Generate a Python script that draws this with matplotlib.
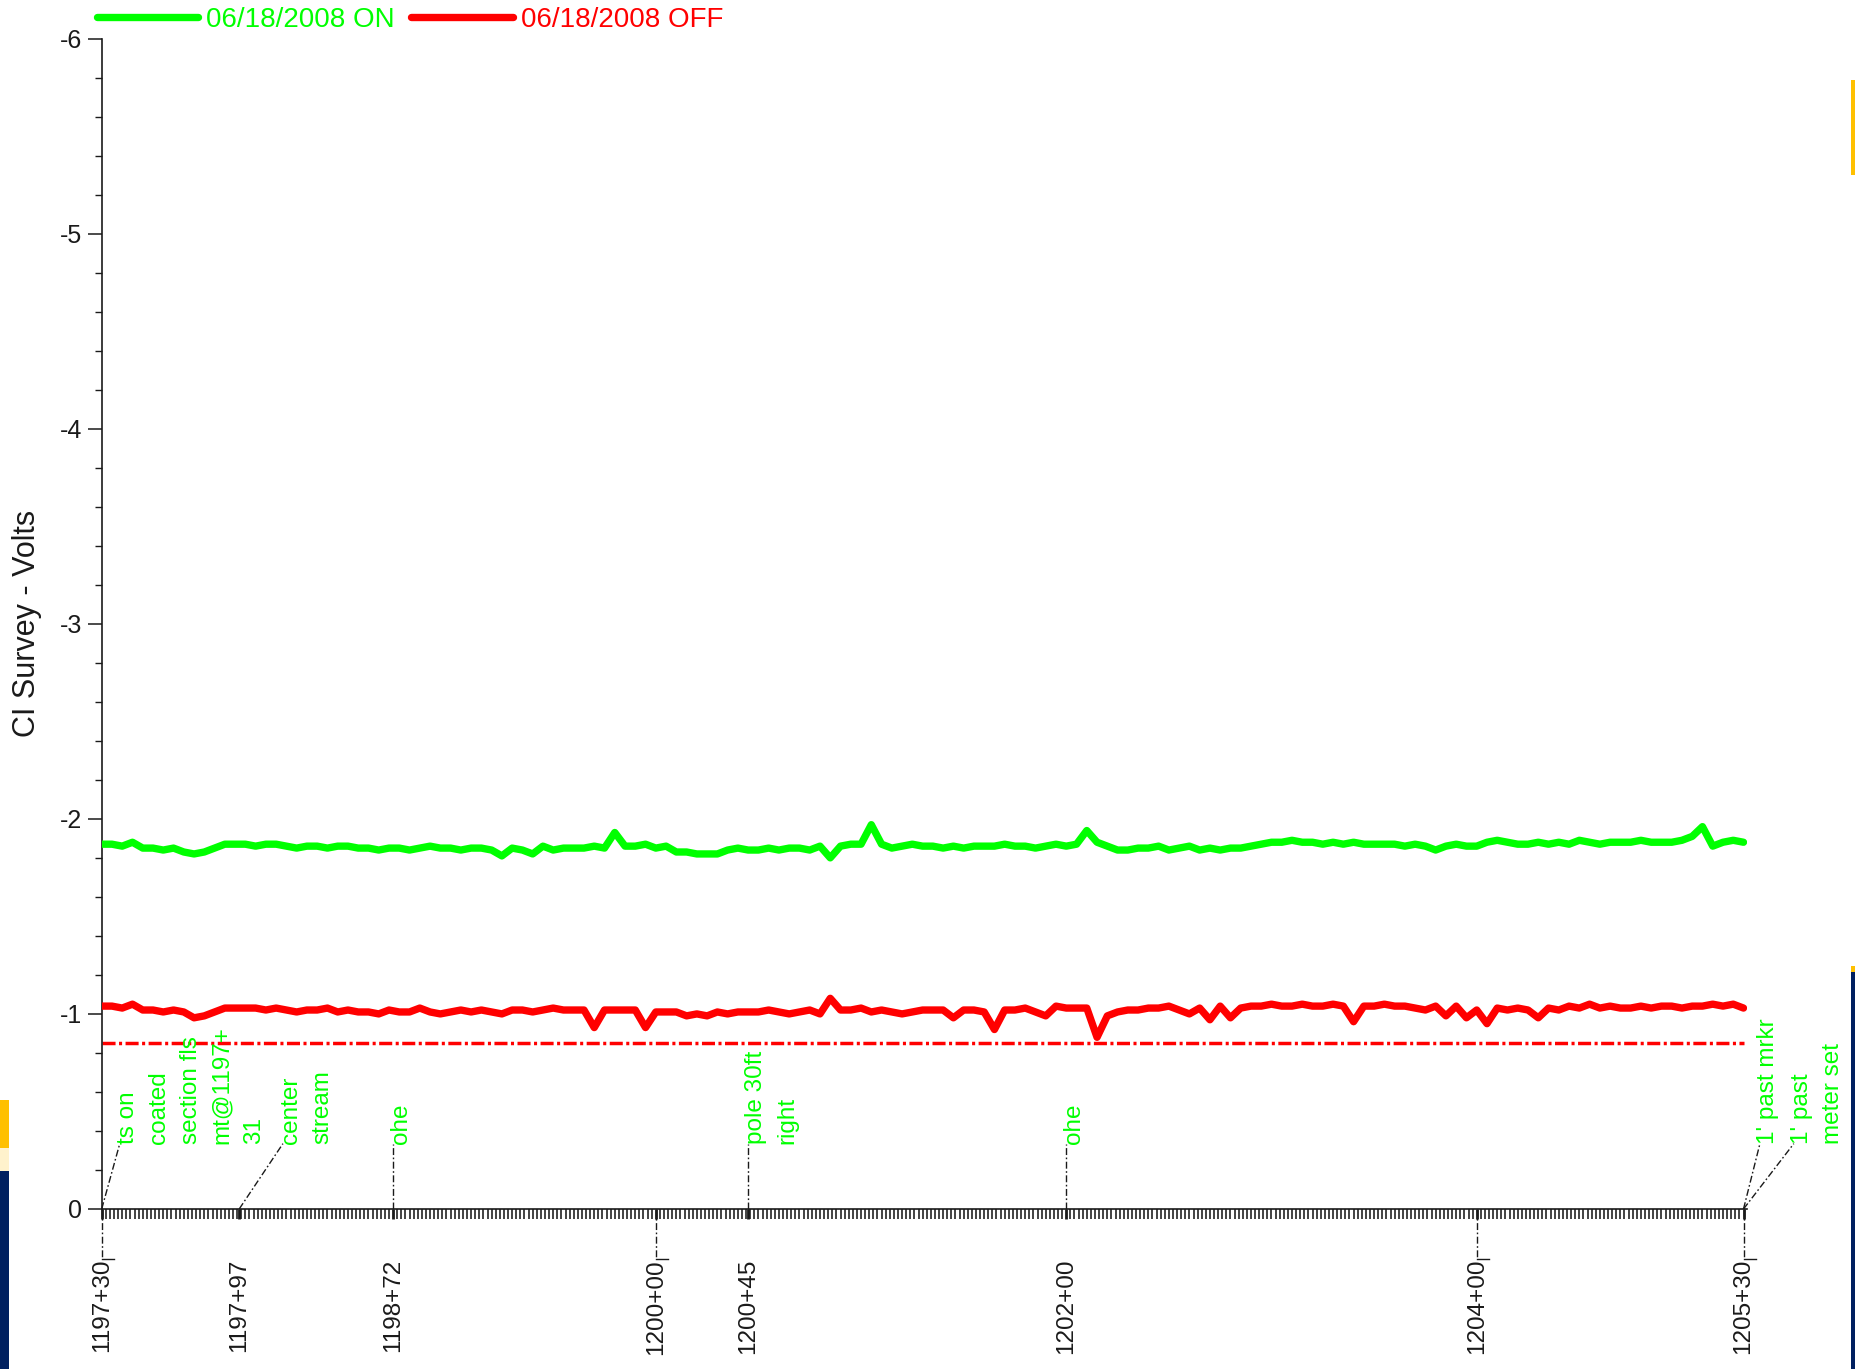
import numpy as np
import matplotlib
matplotlib.use("Agg")
import matplotlib.pyplot as plt
from matplotlib.ticker import MultipleLocator
from matplotlib.patches import Rectangle

plt.rcParams["font.family"] = ["Liberation Sans", "DejaVu Sans"]
plt.rcParams["lines.scale_dashes"] = False

# ---------------------------------------------------------------- data
# reading stations along the line, in feet (1197+30 = 119730)
station_ft = np.arange(119730, 120531, 5)

# pipe-to-soil potentials, volts
on_volts = [
    -1.87, -1.87, -1.86, -1.88, -1.85, -1.85, -1.84, -1.85, -1.83, -1.82,
    -1.83, -1.85, -1.87, -1.87, -1.87, -1.86, -1.87, -1.87, -1.86, -1.85,
    -1.86, -1.86, -1.85, -1.86, -1.86, -1.85, -1.85, -1.84, -1.85, -1.85,
    -1.84, -1.85, -1.86, -1.85, -1.85, -1.84, -1.85, -1.85, -1.84, -1.81,
    -1.85, -1.84, -1.82, -1.86, -1.84, -1.85, -1.85, -1.85, -1.86, -1.85,
    -1.93, -1.86, -1.86, -1.87, -1.85, -1.86, -1.83, -1.83, -1.82, -1.82,
    -1.82, -1.84, -1.85, -1.84, -1.84, -1.85, -1.84, -1.85, -1.85, -1.84,
    -1.86, -1.80, -1.86, -1.87, -1.87, -1.97, -1.87, -1.85, -1.86, -1.87,
    -1.86, -1.86, -1.85, -1.86, -1.85, -1.86, -1.86, -1.86, -1.87, -1.86,
    -1.86, -1.85, -1.86, -1.87, -1.86, -1.87, -1.94, -1.88, -1.86, -1.84,
    -1.84, -1.85, -1.85, -1.86, -1.84, -1.85, -1.86, -1.84, -1.85, -1.84,
    -1.85, -1.85, -1.86, -1.87, -1.88, -1.88, -1.89, -1.88, -1.88, -1.87,
    -1.88, -1.87, -1.88, -1.87, -1.87, -1.87, -1.87, -1.86, -1.87, -1.86,
    -1.84, -1.86, -1.87, -1.86, -1.86, -1.88, -1.89, -1.88, -1.87, -1.87,
    -1.88, -1.87, -1.88, -1.87, -1.89, -1.88, -1.87, -1.88, -1.88, -1.88,
    -1.89, -1.88, -1.88, -1.88, -1.89, -1.91, -1.96, -1.86, -1.88, -1.89,
    -1.88,
]
off_volts = [
    -1.04, -1.04, -1.03, -1.05, -1.02, -1.02, -1.01, -1.02, -1.01, -0.98,
    -0.99, -1.01, -1.03, -1.03, -1.03, -1.03, -1.02, -1.03, -1.02, -1.01,
    -1.02, -1.02, -1.03, -1.01, -1.02, -1.01, -1.01, -1.00, -1.02, -1.01,
    -1.01, -1.03, -1.01, -1.00, -1.01, -1.02, -1.01, -1.02, -1.01, -1.00,
    -1.02, -1.02, -1.01, -1.02, -1.03, -1.02, -1.02, -1.02, -0.93, -1.02,
    -1.02, -1.02, -1.02, -0.93, -1.01, -1.01, -1.01, -0.99, -1.00, -0.99,
    -1.01, -1.00, -1.01, -1.01, -1.01, -1.02, -1.01, -1.00, -1.01, -1.02,
    -1.00, -1.08, -1.02, -1.02, -1.03, -1.01, -1.02, -1.01, -1.00, -1.01,
    -1.02, -1.02, -1.02, -0.98, -1.02, -1.02, -1.01, -0.92, -1.02, -1.02,
    -1.03, -1.01, -0.99, -1.04, -1.03, -1.03, -1.03, -0.88, -0.99, -1.01,
    -1.02, -1.02, -1.03, -1.03, -1.04, -1.02, -1.00, -1.03, -0.97, -1.04,
    -0.98, -1.03, -1.04, -1.04, -1.05, -1.04, -1.04, -1.05, -1.04, -1.04,
    -1.05, -1.04, -0.96, -1.04, -1.04, -1.05, -1.04, -1.04, -1.03, -1.02,
    -1.04, -0.99, -1.04, -0.98, -1.02, -0.95, -1.03, -1.02, -1.03, -1.02,
    -0.98, -1.03, -1.02, -1.04, -1.03, -1.05, -1.03, -1.04, -1.03, -1.03,
    -1.04, -1.03, -1.04, -1.04, -1.03, -1.04, -1.04, -1.05, -1.04, -1.05,
    -1.03,
]
criterion_volts = -0.85
series_labels = ["06/18/2008 ON", "06/18/2008 OFF"]

# labelled stations on the distance axis
label_ft = [119730, 119797, 119872, 120000, 120045, 120200, 120400, 120530]
label_text = ["1197+30", "1197+97", "1198+72", "1200+00",
              "1200+45", "1202+00", "1204+00", "1205+30"]
dropline_ft = [119730, 120000, 120400, 120530]

# field comments: (station, leader end station, comment)
note_station = [119730, 119797, 119872, 120045, 120200, 120530, 120530]
note_end = [119738.8, 119818.3, 119872, 120045, 120200, 120538.0, 120554.5]
note_text = ["ts on\ncoated\nsection fls\nmt@1197+\n31",
             "center\nstream", "ohe", "pole 30ft\nright", "ohe",
             "1' past mrkr", "1' past\nmeter set"]

GREEN = "#00ff00"
RED = "#ff0000"
INK = "#1a1a1a"

# ---------------------------------------------------------------- figure
W, H = 1855, 1369
fig = plt.figure(figsize=(W / 100, H / 100), dpi=100)
ax = fig.add_axes([101.7 / W, 1 - 1209 / H, (1747 - 101.7) / W, (1209 - 38.5) / H])

ax.plot(station_ft, on_volts, color=GREEN, lw=5.3, solid_joinstyle="round",
        solid_capstyle="round", label=series_labels[0], zorder=3)
ax.plot(station_ft, off_volts, color=RED, lw=5.3, solid_joinstyle="round",
        solid_capstyle="round", label=series_labels[1], zorder=3)
ax.plot([station_ft[0], station_ft[-1]], [criterion_volts, criterion_volts],
        color=RED, lw=2.5, linestyle=(0, (9.4, 2.5, 2.2, 2.5)), zorder=2)

ax.set_xlim(119730, 120531.7)
ax.set_ylim(0, -6)

# y axis
ax.set_yticks(range(-6, 1))
ax.set_yticklabels([str(v) for v in range(-6, 1)])
ax.yaxis.set_minor_locator(MultipleLocator(0.2))
ax.tick_params(axis="y", which="major", length=10, width=1.1, pad=4,
               labelsize=18, colors=INK)
ax.tick_params(axis="y", which="minor", length=5, width=1.0, color=INK)
ax.set_ylabel("CI Survey - Volts", fontsize=22, color=INK)
ax.yaxis.set_label_coords(-0.036, 0.5)

# x axis
ax.set_xticks(label_ft)
ax.set_xticklabels(label_text)
ax.xaxis.set_minor_locator(MultipleLocator(2))
ax.tick_params(axis="x", which="major", length=7, width=2.0, pad=29,
               labelsize=17.5, labelrotation=90, colors=INK)
ax.tick_params(axis="x", which="minor", length=7, width=1.15, color=INK)

for side in ("top", "right"):
    ax.spines[side].set_visible(False)
for side in ("left", "bottom"):
    ax.spines[side].set_linewidth(1.2)
    ax.spines[side].set_color(INK)

leader_style = dict(color=INK, lw=1.0, linestyle=(0, (5, 1.8, 1.2, 1.8)),
                    clip_on=False, zorder=4)

# drop lines from the axis to the station labels
drop = 50 / 195.1
for s in dropline_ft:
    ax.plot([s, s], [0, drop], **leader_style)
    ax.plot([s, s + 6], [drop, drop], color=INK, lw=1.0, clip_on=False)

# field comments with leader lines
note_y = -0.335
for s, e, txt in zip(note_station, note_end, note_text):
    ax.plot([s, e], [0, note_y], **leader_style)
    ax.text(e - 1.5, note_y, txt, rotation=90, rotation_mode="anchor",
            ha="left", va="top", color=GREEN, fontsize=17.5,
            linespacing=1.56, clip_on=False, zorder=5)

# legend across the top
ax.legend(loc="center left", bbox_to_anchor=(97 / W, 1 - 20 / H),
          bbox_transform=fig.transFigure, ncol=2, frameon=False,
          fontsize=20, handlelength=3.65, handletextpad=0.28,
          columnspacing=0.6, borderpad=0, borderaxespad=0,
          labelcolor="linecolor")

# slide border fragments at the page edges
def px_rect(x0, y0, x1, y1, color):
    fig.add_artist(Rectangle((x0 / W, 1 - y1 / H), (x1 - x0) / W, (y1 - y0) / H,
                             transform=fig.transFigure, color=color, lw=0, zorder=0))

px_rect(0, 1100, 9, 1148, "#ffc000")
px_rect(0, 1148, 9, 1171, "#fff2cc")
px_rect(0, 1171, 9, H, "#002060")
px_rect(1851, 80, W, 175, "#ffc000")
px_rect(1851, 966, W, 972, "#ffc000")
px_rect(1851, 972, W, H, "#002060")

fig.savefig("out.png", dpi=100)
